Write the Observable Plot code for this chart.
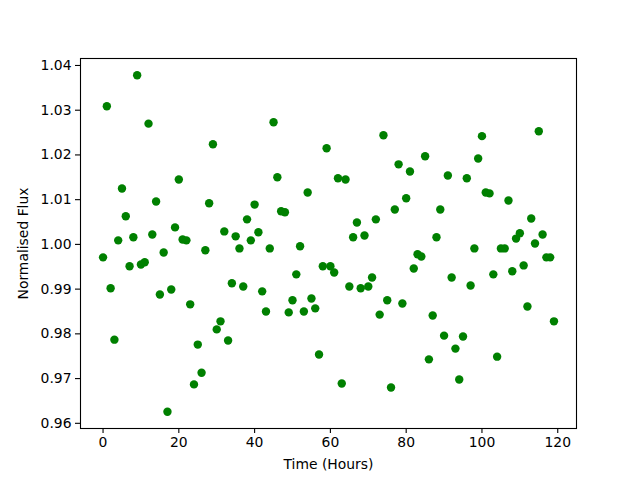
<!DOCTYPE html>
<html>
<head>
<meta charset="utf-8">
<script src="https://cdn.jsdelivr.net/npm/d3@7"></script>
<script src="https://cdn.jsdelivr.net/npm/@observablehq/plot@0.6"></script>
<style>
  html, body { margin: 0; padding: 0; background: white; }
</style>
</head>
<body>
<div id="chart"></div>
<script>
const hours = d3.range(0, 120);
const flux = [
  0.9971, 1.0309, 0.9902, 0.9787, 1.0009, 1.0125, 1.0063, 0.9951, 1.0016, 1.0378,
  0.9955, 0.9960, 1.0270, 1.0022, 1.0096, 0.9888, 0.9982, 0.9626, 0.9899, 1.0038,
  1.0145, 1.0011, 1.0009, 0.9866, 0.9687, 0.9776, 0.9713, 0.9987, 1.0092, 1.0224,
  0.9810, 0.9828, 1.0029, 0.9785, 0.9913, 1.0018, 0.9991, 0.9906, 1.0056, 1.0009,
  1.0089, 1.0027, 0.9895, 0.9850, 0.9991, 1.0273, 1.0150, 1.0074, 1.0072, 0.9848,
  0.9875, 0.9933, 0.9996, 0.9850, 1.0116, 0.9879, 0.9857, 0.9754, 0.9951, 1.0215,
  0.9951, 0.9937, 1.0148, 0.9689, 1.0145, 0.9906, 1.0016, 1.0049, 0.9902, 1.0020,
  0.9906, 0.9926, 1.0056, 0.9843, 1.0244, 0.9875, 0.9680, 1.0078, 1.0179, 0.9868,
  1.0103, 1.0163, 0.9946, 0.9978, 0.9973, 1.0197, 0.9743, 0.9841, 1.0016, 1.0078,
  0.9796, 1.0154, 0.9926, 0.9767, 0.9698, 0.9794, 1.0148, 0.9908, 0.9991, 1.0192,
  1.0242, 1.0116, 1.0114, 0.9933, 0.9749, 0.9991, 0.9991, 1.0098, 0.9940, 1.0013,
  1.0025, 0.9953, 0.9861, 1.0058, 1.0002, 1.0253, 1.0022, 0.9971, 0.9971, 0.9828
];
const xTicks = [0, 20, 40, 60, 80, 100, 120];
const yTicks = [0.96, 0.97, 0.98, 0.99, 1.00, 1.01, 1.02, 1.03, 1.04];
const xLabel = "Time (Hours)";
const yLabel = "Normalised Flux";

const data = hours.map((h, i) => ({h, f: flux[i]}));
const xPad = (d3.max(hours) - d3.min(hours)) * 0.05;
const yPad = (d3.max(flux) - d3.min(flux)) * 0.05;

const chart = Plot.plot({
  width: 640,
  height: 480,
  marginLeft: 80,
  marginRight: 64,
  marginTop: 58,
  marginBottom: 52,
  style: {fontFamily: "DejaVu Sans", fontSize: "13.9px", color: "black", background: "white"},
  x: {domain: [d3.min(hours) - xPad, d3.max(hours) + xPad]},
  y: {domain: [d3.min(flux) - yPad, d3.max(flux) + yPad]},
  marks: [
    Plot.dot(data, {x: "h", y: "f", r: 4.2, fill: "green", stroke: "none"}),
    Plot.axisX({ticks: xTicks, tickFormat: d3.format("d"), tickSize: 5, tickPadding: 4, strokeWidth: 1.1,
      label: xLabel, labelAnchor: "center", labelArrow: "none", labelOffset: 40}),
    Plot.axisY({ticks: yTicks, tickFormat: d3.format(".2f"), tickSize: 5, tickPadding: 4, strokeWidth: 1.1,
      label: yLabel, labelAnchor: "center", labelArrow: "none", labelOffset: 62}),
    Plot.frame({stroke: "black", strokeWidth: 1.1})
  ]
});
document.getElementById("chart").appendChild(chart);
</script>
</body>
</html>
